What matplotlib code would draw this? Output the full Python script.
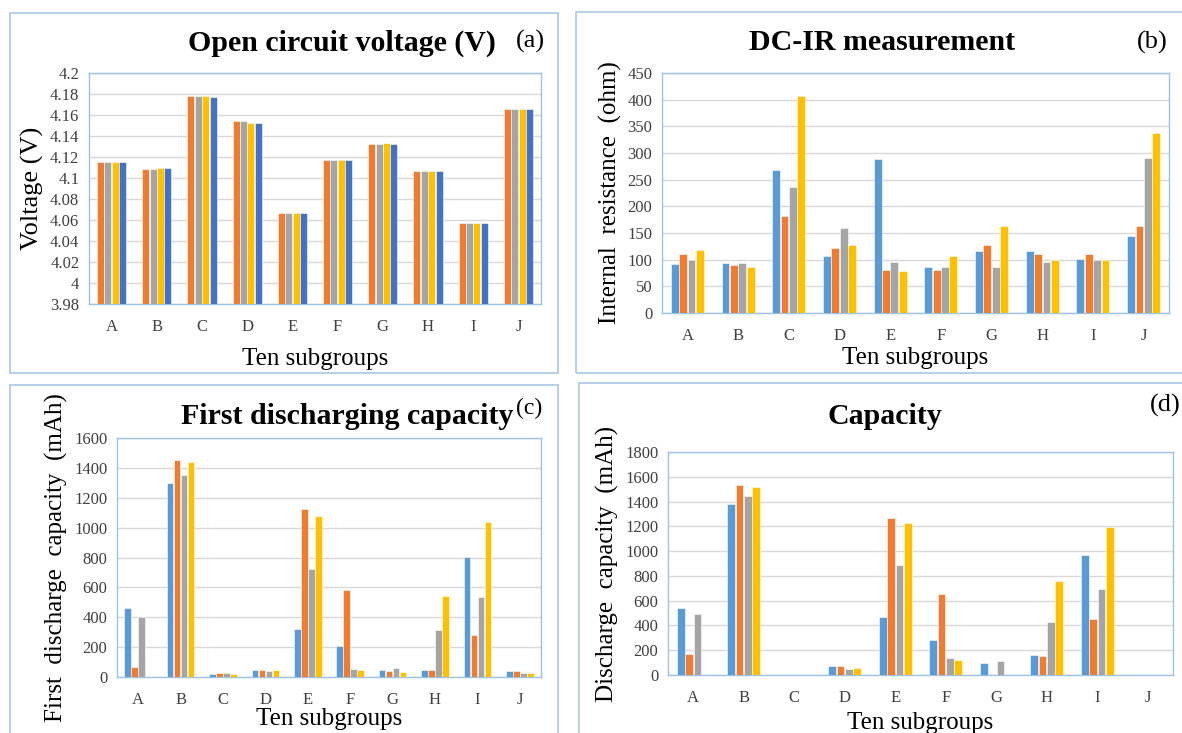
import numpy as np
import matplotlib
matplotlib.use("Agg")
import matplotlib.pyplot as plt
from matplotlib.patches import Rectangle
from matplotlib.ticker import FixedLocator, FuncFormatter

plt.rcParams['font.family'] = ['Liberation Serif', 'DejaVu Serif']

groups = ['A', 'B', 'C', 'D', 'E', 'F', 'G', 'H', 'I', 'J']

# (a) open circuit voltage, V
ocv_1 = [4.115, 4.109, 4.178, 4.154, 4.067, 4.117, 4.132, 4.107, 4.057, 4.166]
ocv_2 = [4.115, 4.109, 4.178, 4.154, 4.067, 4.117, 4.132, 4.107, 4.057, 4.166]
ocv_3 = [4.115, 4.110, 4.178, 4.152, 4.067, 4.117, 4.133, 4.107, 4.057, 4.166]
ocv_4 = [4.115, 4.110, 4.177, 4.152, 4.067, 4.117, 4.132, 4.107, 4.057, 4.166]

# (b) DC-IR, ohm
ir_1 = [91, 93, 269, 106, 289, 87, 116, 117, 102, 145]
ir_2 = [111, 90, 181, 121, 81, 81, 128, 111, 111, 164]
ir_3 = [99, 93, 237, 160, 96, 87, 87, 96, 99, 291]
ir_4 = [119, 87, 407, 127, 79, 106, 164, 99, 99, 338]

# (c) first discharge capacity, mAh
fdc_1 = [460, 1300, 20, 50, 320, 205, 45, 50, 805, 40]
fdc_2 = [70, 1450, 30, 50, 1125, 580, 40, 45, 280, 40]
fdc_3 = [400, 1355, 30, 40, 720, 55, 60, 315, 535, 30]
fdc_4 = [0, 1440, 20, 45, 1080, 45, 35, 545, 1035, 30]

# (d) discharge capacity, mAh
cap_1 = [540, 1380, 0, 75, 470, 285, 95, 160, 965, 0]
cap_2 = [170, 1530, 0, 75, 1265, 650, 0, 155, 455, 0]
cap_3 = [490, 1445, 0, 45, 890, 140, 115, 425, 695, 0]
cap_4 = [0, 1515, 0, 55, 1225, 125, 0, 760, 1195, 0]

BLUE = '#5B9BD5'
ORANGE = '#ED7D31'
GRAY = '#A5A5A5'
GOLD = '#FFC000'
DBLUE = '#4472C4'
FRAME = '#A9C8E8'
AXC = '#9DC3E6'
GRID = '#D9D9D9'

W, H = 1182, 733
fig = plt.figure(figsize=(W / 100, H / 100), dpi=100)
fig.patch.set_facecolor('white')


def frame(x0, y0, x1, y1):
    fig.patches.append(Rectangle((x0 / W, 1 - y1 / H), (x1 - x0) / W, (y1 - y0) / H,
                                 transform=fig.transFigure, fill=False,
                                 edgecolor=FRAME, lw=1.2))


def px_axes(x0, y0, x1, y1):
    return fig.add_axes([x0 / W, 1 - y1 / H, (x1 - x0) / W, (y1 - y0) / H])


def fmt(v, pos):
    return f"{round(v, 2):g}"


def panel(box, series, colors, ylim, step, ylabel, ylabel_fs, xpad):
    ax = px_axes(*box)
    x = np.arange(len(groups))
    w, s = 0.155, 0.165
    for i, (vals, c) in enumerate(zip(series, colors)):
        ax.bar(x + (i - 1.5) * s, vals, width=w, color=c, edgecolor='white',
               linewidth=0.4, zorder=3)
    ax.set_xlim(-0.5, len(groups) - 0.5)
    ax.set_ylim(*ylim)
    ticks = np.arange(ylim[0], ylim[1] + step / 2, step)
    ax.yaxis.set_major_locator(FixedLocator(ticks))
    ax.yaxis.set_major_formatter(FuncFormatter(fmt))
    ax.set_xticks(x)
    ax.set_xticklabels(groups)
    ax.tick_params(length=0, labelsize=12, colors='#404040', pad=7)
    ax.tick_params(axis='x', pad=11)
    ax.grid(axis='y', color=GRID, lw=1, zorder=0)
    ax.set_axisbelow(True)
    for sp in ax.spines.values():
        sp.set_color(AXC)
        sp.set_linewidth(1)
    ax.set_ylabel(ylabel, fontsize=ylabel_fs)
    ax.set_xlabel('Ten subgroups', fontsize=18, labelpad=xpad)
    return ax


frame(10, 13, 558, 373)
frame(576, 12, 1200, 373)
frame(10, 385, 558, 760)
frame(579, 383, 1200, 760)

ax_a = panel((89, 73, 541, 304), [ocv_1, ocv_2, ocv_3, ocv_4],
             [ORANGE, GRAY, GOLD, DBLUE], (3.98, 4.2), 0.02, 'Voltage (V)', 19, 9)
ax_b = panel((662, 73, 1169, 313), [ir_1, ir_2, ir_3, ir_4],
             [BLUE, ORANGE, GRAY, GOLD], (0, 450), 50, 'Internal  resistance  (ohm)', 18, 2)
ax_c = panel((117, 438, 541, 677), [fdc_1, fdc_2, fdc_3, fdc_4],
             [BLUE, ORANGE, GRAY, GOLD], (0, 1600), 200, 'First  discharge  capacity  (mAh)', 18, 0)
ax_d = panel((668, 452, 1173, 675), [cap_1, cap_2, cap_3, cap_4],
             [BLUE, ORANGE, GRAY, GOLD], (0, 1800), 200, 'Discharge  capacity  (mAh)', 18, 4)

fig.text(342 / W, 1 - 43 / H, 'Open circuit voltage (V)', ha='center', va='center',
         fontsize=21.5, fontweight='bold')
fig.text(530 / W, 1 - 41 / H, '(a)', ha='center', va='center', fontsize=19)
fig.text(882 / W, 1 - 43 / H, 'DC-IR measurement', ha='center', va='center',
         fontsize=21.5, fontweight='bold')
fig.text(1152 / W, 1 - 42 / H, '(b)', ha='center', va='center', fontsize=19)
fig.text(347 / W, 1 - 417 / H, 'First discharging capacity', ha='center', va='center',
         fontsize=21.5, fontweight='bold')
fig.text(529 / W, 1 - 408 / H, '(c)', ha='center', va='center', fontsize=17)
fig.text(885 / W, 1 - 417 / H, 'Capacity', ha='center', va='center',
         fontsize=21.5, fontweight='bold')
fig.text(1165 / W, 1 - 405 / H, '(d)', ha='center', va='center', fontsize=19)

fig.savefig('out.png', dpi=100)
